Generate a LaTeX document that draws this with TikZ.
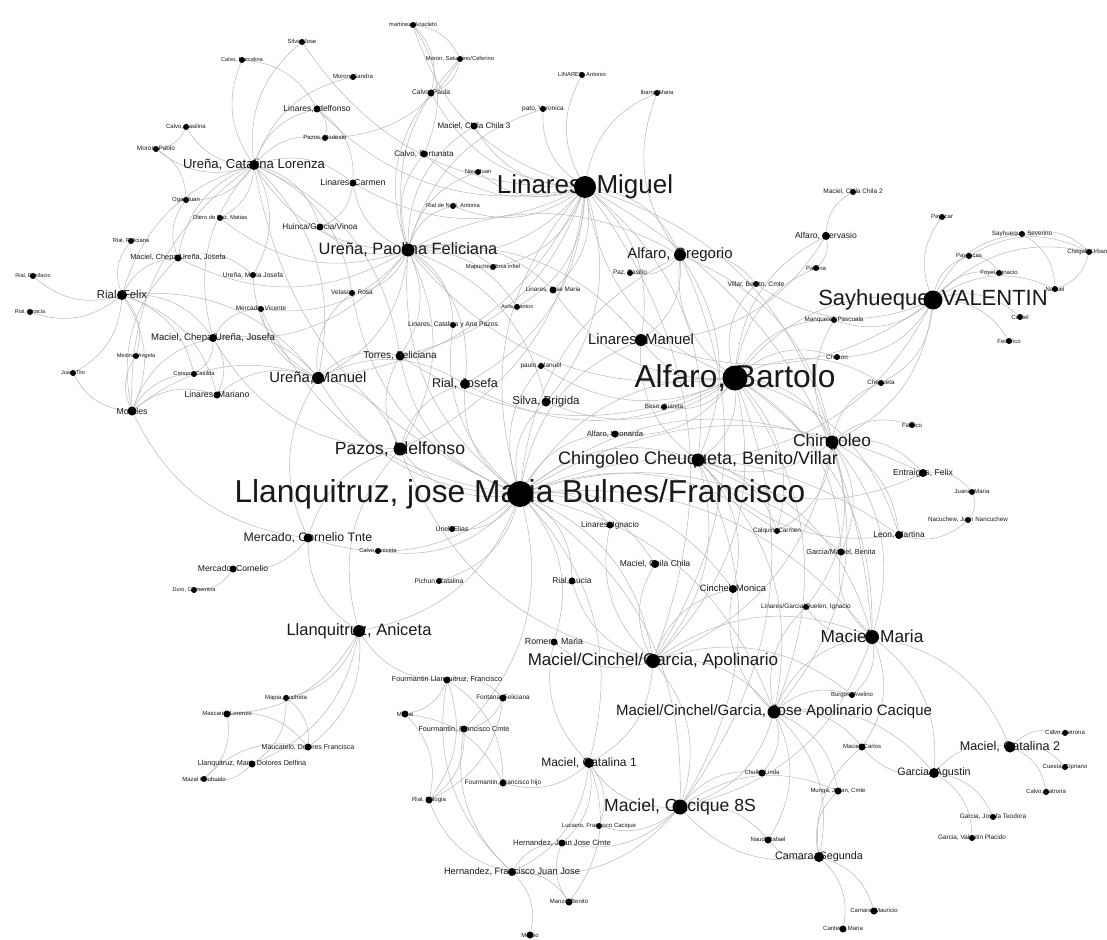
\documentclass[tikz,border=0pt]{standalone}
\usepackage{fontspec}
\setmainfont{Liberation Sans}
\usepackage{tikz}
\usetikzlibrary{positioning}

\pgfdeclarelayer{edges}
\pgfsetlayers{edges,main}

\tikzset{
  plbl/.style={inner sep=0pt, text=black!90},
  pdot/.style={circle, fill=black, inner sep=0pt},
  tie/.style={draw=gray!55, line width=0.5pt, bend left=28}
}

% one person: name, x, y, font size, dot size, label
\newcommand{\person}[6]{%
  \node[plbl, font=\fontsize{#4}{#4}\selectfont] (#1-t) at (#2,#3) {#6};
  \node[pdot, minimum size=#5pt] (#1) at (#2,#3) {};
}

\begin{document}
\begin{tikzpicture}[x=1pt, y=-1pt]
\useasboundingbox (0,0) rectangle (1107,939);

% hubs
\person{llanq}{520}{494}{31.7}{26}{Llanquitruz, jose Maria Bulnes/Francisco}
\person{alfbart}{735}{378}{31.7}{25}{Alfaro, Bartolo}
\person{linmig}{585}{187}{26}{22}{Linares, Miguel}
\person{sayh}{933}{300}{22}{19}{Sayhueque, VALENTIN}
\person{urpao}{408}{250}{16.4}{13}{Ureña, Paolina Feliciana}
\person{chche}{698}{460}{18}{13}{Chingoleo Cheuqueta, Benito/Villar}
\person{apol}{653}{661}{17}{14}{Maciel/Cinchel/Garcia, Apolinario}
\person{japol}{774}{712}{15}{13}{Maciel/Cinchel/Garcia, Jose Apolinario Cacique}
\person{cac8}{680}{807}{17.6}{15}{Maciel, Cacique 8S}
\person{pazos}{400}{449}{17.6}{13}{Pazos, Idelfonso}
\person{aniceta}{359}{631}{16.5}{12}{Llanquitruz, Aniceta}
\person{mmaria}{872}{637}{17.3}{14}{Maciel, Maria}
\person{chingo}{832}{442}{17.3}{13}{Chingoleo}
\person{alfgreg}{680}{255}{14.9}{12}{Alfaro, Gregorio}
\person{linman}{641}{340}{14.9}{12}{Linares, Manuel}
\person{urman}{318}{378}{14.8}{12}{Ureña, Manuel}
\person{urcat}{254}{165}{13.1}{10}{Ureña, Catalina Lorenza}
\person{rialjos}{465}{384}{12.6}{10}{Rial, Josefa}
\person{mcat1}{589}{763}{12}{10}{Maciel, Catalina 1}
\person{mcat2}{1010}{747}{12.6}{11}{Maciel, Catalina 2}
\person{mercT}{308}{538}{12.3}{9}{Mercado, Cornelio Tnte}
\person{rialfelix}{122}{295}{11.4}{10}{Rial, Felix}
\person{silva}{546}{402}{11.5}{9}{Silva, Brigida}
\person{garcag}{934}{773}{10.7}{10}{Garcia, Agustin}
\person{camara}{819}{857}{10.8}{10}{Camara, Segunda}
\person{torres}{400}{356}{10}{9}{Torres, Feliciana}
\person{chepa2}{213}{338}{9.6}{8}{Maciel, Chepa/Ureña, Josefa}

% middle sized
\person{linmar}{217}{395}{8.7}{7}{Linares, Mariano}
\person{morales}{132}{411}{8.7}{9}{Morales}
\person{mercC}{233}{569}{8.6}{7}{Mercado, Cornelio}
\person{linild}{317}{109}{8.5}{7}{Linares, Idelfonso}
\person{lincar}{353}{183}{8.8}{7}{Linares, Carmen}
\person{huinca}{320}{227}{8.2}{7}{Huinca/Garcia/Vinoa}
\person{fortun}{424}{154}{8}{7}{Calvo, Fortunata}
\person{chila3}{474}{126}{8}{7}{Maciel, Chila Chila 3}
\person{chepa1}{178}{258}{7.4}{7}{Maciel, Chepa/Ureña, Josefa}
\person{romero}{554}{642}{8.8}{7}{Romero, Maria}
\person{fourLl}{447}{680}{7.3}{7}{Fourmantin Llanquitruz, Francisco}
\person{hernFJ}{512}{872}{9.3}{8}{Hernandez, Francisco Juan Jose}
\person{hernJJ}{562}{843}{7.7}{7}{Hernandez, Juan Jose Cmte}
\person{cinmon}{733}{589}{9.3}{8}{Cinchel, Monica}
\person{chila}{655}{564}{8.5}{8}{Maciel, Chila Chila}
\person{linign}{610}{525}{8.2}{7}{Linares, Ignacio}
\person{riallu}{572}{581}{8.4}{7}{Rial, Lucia}
\person{entra}{923}{473}{8.7}{8}{Entraigas, Felix}
\person{leon}{899}{535}{8.4}{8}{Leon, Martina}
\person{alfgerv}{826}{236}{8.6}{8}{Alfaro, Gervasio}

% small
\person{silvaj}{302}{42}{5.9}{6}{Silva, Jose}
\person{calmar}{242}{60}{5.6}{6}{Calvo, Marcelina}
\person{morsan}{353}{77}{6}{6}{Moron, Sandra}
\person{pazmod}{325}{138}{6}{6}{Pazos, Modesto}
\person{calbas}{186}{127}{6}{6}{Calvo, Basilina}
\person{morpab}{156}{149}{6.4}{6}{Moron, Pablo}
\person{oga}{186}{200}{6}{6}{Oga, Juan}
\person{otero}{220}{218}{5.8}{6}{Otero de Paz, Matias}
\person{rialfel}{131}{241}{5.8}{6}{Rial, Feliciana}
\person{urmjos}{253}{275}{6.7}{6}{Ureña, Maria Josefa}
\person{rialbon}{33}{276}{5.5}{6}{Rial, Bonifacio}
\person{velasco}{352}{293}{6.5}{6}{Velasco, Rosa}
\person{mercvic}{261}{309}{6.5}{6}{Mercado, Vicente}
\person{rialign}{30}{312}{5.5}{6}{Rial, Ignacia}
\person{medina}{136}{356}{5.5}{6}{Medina, Angela}
\person{juanti}{73}{373}{5.5}{6}{Juan, Tito}
\person{crespo}{194}{374}{5.8}{6}{Crespo, Casilda}
\person{duro}{194}{590}{5.5}{6}{Duro, Clementina}
\person{calani}{378}{551}{5.8}{6}{Calvo, Aniceta}
\person{martinez}{413}{25}{5.8}{6}{martinez, Anacleto}
\person{morsat}{460}{59}{5.8}{6}{Moron, Saturnino/Ceferino}
\person{calpau}{431}{93}{6.7}{7}{Calvo, Paula}
\person{linant}{582}{75}{5.8}{6}{LINARES, Antonio}
\person{ibarra}{657}{93}{5.8}{6}{Ibarra, Maria}
\person{pato}{543}{109}{6.5}{6}{pato, Veronica}
\person{nau}{478}{172}{5.8}{6}{Nau, Juan}
\person{rialnel}{453}{206}{5.8}{6}{Rial de Nelli, Antonia}
\person{mapuche}{493}{267}{5.8}{6}{Mapuche, Rosa infiel}
\person{pazbas}{630}{273}{6.5}{6}{Paz, Basilio}
\person{linjm}{553}{290}{6.3}{7}{Linares, Jose Maria}
\person{avila}{517}{307}{5.5}{6}{Avila, Santos}
\person{villar}{756}{284}{6.7}{6}{Villar, Benito, Cmte}
\person{paulo}{541}{366}{6.5}{6}{paulo, Manuel}
\person{bosoj}{664}{407}{6.3}{6}{Boso, Juanita}
\person{alfleo}{615}{434}{7.6}{7}{Alfaro, Leonarda}
\person{lincat}{453}{325}{6.7}{6}{Linares, Catalina y Ana Pazos}
\person{uriel}{452}{529}{6.9}{6}{Uriel, Elias}
\person{pichun}{439}{581}{6.7}{6}{Pichun, Catalina}
\person{manq}{834}{320}{6.3}{6}{Manquelef, Pascuala}
\person{chacon}{837}{357}{6.3}{6}{Chacon}
\person{chequeta}{881}{383}{6.3}{6}{Chequeta}
\person{fabrico}{912}{425}{6}{6}{Fabrico}
\person{juanam}{972}{492}{6}{6}{Juana, Maria}
\person{nacu}{968}{520}{6.2}{6}{Nacuchew, Juan Nancuchew}
\person{calquin}{777}{531}{6.4}{6}{Calquin, Carmen}
\person{garben}{841}{552}{7.3}{7}{Garcia/Maciel, Benita}
\person{linq}{806}{607}{6.5}{6}{Linares/Garcia/Quelen, Ignacio}
\person{chila2}{853}{192}{6.5}{6}{Maciel, Chila Chila 2}
\person{paulina}{816}{268}{6}{6}{Paulina}
\person{payacar}{942}{217}{6}{6}{Payacar}
\person{saysev}{1022}{234}{6.3}{6}{Sayhueque, Severino}
\person{payll}{969}{256}{6}{6}{Payllacas}
\person{chegall}{1089}{252}{6}{6}{Chegall, Urbano}
\person{foyel}{999}{273}{6}{6}{Foyel, Ignacio}
\person{nahuel}{1055}{289}{6}{6}{Nahuel}
\person{catriel}{1020}{317}{6}{6}{Catriel}
\person{federico}{1009}{341}{6}{6}{Federico}
\person{mapia}{286}{698}{6}{6}{Mapia, Bucheta}
\person{mascarel}{227}{714}{6}{7}{Mascarel, Lorenzo}
\person{maucat}{308}{747}{7}{7}{Maucatelo, Dolores Francisca}
\person{llanmd}{252}{764}{7.2}{7}{Llanquitruz, Maria Dolores Delfina}
\person{mazal}{204}{779}{6}{6}{Mazal Chuhuelo}
\person{fontana}{503}{698}{6.5}{7}{Fontana, Feliciana}
\person{manai}{405}{714}{6}{7}{Mañai}
\person{fourFC}{464}{729}{7.2}{7}{Fourmantin, Francisco Cmte}
\person{fourFh}{503}{783}{6.5}{7}{Fourmantin, Francisco hijo}
\person{rialeul}{429}{800}{6}{7}{Rial, Eulogia}
\person{luciano}{599}{826}{6}{6}{Luciano, Francisco Cacique}
\person{manzo}{569}{902}{6}{7}{Manzo, Benito}
\person{melitio}{530}{935}{6}{7}{Melitio}
\person{burgos}{852}{695}{6}{6}{Burgos, Avelino}
\person{maccarl}{862}{747}{6}{7}{Maciel, Carlos}
\person{calpet}{1065}{733}{6}{6}{Calvo, Petrona}
\person{cuesta}{1065}{767}{6}{6}{Cuesta, Cipriano}
\person{calpat}{1046}{792}{6}{6}{Calvo, Patrona}
\person{chullu}{762}{773}{6}{7}{Chullu, Linda}
\person{munga}{838}{791}{6}{7}{Munga, Julian, Cmte}
\person{garjt}{993}{817}{6.4}{6}{Garcia, Josefa Teodora}
\person{garvp}{972}{838}{6.4}{6}{Garcia, Valentin Placido}
\person{naud}{768}{840}{6}{7}{Naud, Rafael}
\person{cammau}{874}{911}{6}{7}{Camara, Mauricio}
\person{cantero}{843}{929}{6}{7}{Cantero, Maria}

\begin{pgfonlayer}{edges}
\fill[white] (0,0) rectangle (1107,939);
\foreach \b in {urpao,pazos,urman,torres,rialjos,silva,chche,apol,japol,cac8,mmaria,chingo,linman,linign,uriel,pichun,riallu,chila,cinmon,romero,calani,alfleo,paulo,mcat1,lincat,aniceta,mercT,alfbart,linmig,alfgreg,fourFC,calquin,garben,leon,entra,urcat,velasco,mercvic}
  \draw[tie] (llanq) to (\b);
\foreach \b in {alfgreg,chche,chingo,linman,apol,japol,mmaria,bosoj,manq,chacon,chequeta,villar,silva,urpao,cac8,linmig,sayh,leon,alfgerv,paulina,rialjos,paulo,alfleo,garben,calquin,torres,linjm}
  \draw[tie] (alfbart) to (\b);
\foreach \b in {alfgreg,urpao,linman,chche,urman,rialjos,silva,pazos,torres,apol,chingo,martinez,fortun,pato,chila3,rialnel,linant,linild,lincar,silvaj,calpau,nau,ibarra,linjm,avila,mapuche,mmaria}
  \draw[tie] (linmig) to (\b);
\foreach \b in {urman,pazos,torres,rialjos,mapuche,linjm,avila,velasco,mercvic,chepa1,lincat,silva,linman,morsat,calpau,pato,chila3,fortun,nau,rialnel,lincar,huinca,urcat,otero,chepa2,alfgreg}
  \draw[tie] (urpao) to (\b);
\foreach \b in {payacar,saysev,payll,foyel,nahuel,chegall,catriel,federico,chingo,manq,chacon,chequeta,villar,linman,chche}
  \draw[tie] (sayh) to (\b);
\foreach \b in {pazbas,chche,linman,villar,ibarra,chingo,apol}
  \draw[tie] (alfgreg) to (\b);
\foreach \b in {fabrico,entra,leon,chche,garben,calquin,linq,mmaria,apol,japol,manq,chequeta}
  \draw[tie] (chingo) to (\b);
\foreach \b in {apol,japol,mmaria,cac8,linman,calquin,cinmon}
  \draw[tie] (chche) to (\b);
\foreach \b in {japol,cac8,mmaria,mcat1,cinmon,chila,romero,riallu,linign,burgos,pazos}
  \draw[tie] (apol) to (\b);
\foreach \b in {mmaria,cac8,burgos,maccarl,chullu,munga,naud,garcag,linq,cinmon,camara}
  \draw[tie] (japol) to (\b);
\foreach \b in {garben,linq,burgos,maccarl,garcag,mcat2,cac8}
  \draw[tie] (mmaria) to (\b);
\foreach \b in {mcat1,hernJJ,hernFJ,luciano,naud,chullu,munga}
  \draw[tie] (cac8) to (\b);
\foreach \b in {hernJJ,hernFJ,luciano,manzo,fourFh,romero}
  \draw[tie] (mcat1) to (\b);
\foreach \b in {rialeul,hernJJ,manzo,fourFC,melitio,fourLl}
  \draw[tie] (hernFJ) to (\b);
\foreach \b in {manai,fourFh,rialeul,aniceta,fontana}
  \draw[tie] (fourLl) to (\b);
\foreach \b in {mapia,mascarel,maucat,llanmd,mercT,pazos}
  \draw[tie] (aniceta) to (\b);
\foreach \b in {rialbon,rialign,chepa1,chepa2,morales,rialfel,urcat,medina,crespo,linmar,urman,juanti}
  \draw[tie] (rialfelix) to (\b);
\foreach \b in {chepa1,medina,crespo,linmar,juanti,urman,chepa2,urcat}
  \draw[tie] (morales) to (\b);
\foreach \b in {calbas,morpab,oga,otero,linild,huinca,lincar,pazmod,urman,silvaj,morsan,calmar,urmjos,velasco,torres}
  \draw[tie] (urcat) to (\b);
\foreach \b in {torres,velasco,mercvic,urmjos,pazos,rialjos}
  \draw[tie] (urman) to (\b);
\foreach \a/\b in {saysev/chegall,saysev/nahuel,chegall/nahuel,payll/chegall,payll/foyel,
  alfgerv/chila2,alfgerv/paulina,alfgerv/linman,
  entra/juanam,juanam/nacu,nacu/leon,entra/chche,leon/chche,
  garcag/maccarl,garcag/mcat2,garcag/garjt,garcag/garvp,
  mcat2/calpet,mcat2/cuesta,mcat2/calpat,
  camara/cammau,camara/cantero,camara/maccarl,camara/naud,camara/munga,camara/cac8,
  manzo/hernJJ,fontana/rialeul,fontana/fourFC,manai/fourFh,manai/rialeul,fourFC/rialeul,
  mapia/llanmd,mapia/maucat,mascarel/mazal,mazal/maucat,llanmd/mazal,mascarel/maucat,
  mercT/mercC,mercT/urman,mercT/morales,mercT/pazos,mercC/duro,
  chepa2/crespo,chepa2/linmar,chepa2/urman,chepa2/urcat,chepa2/mercvic,
  chepa1/urmjos,chepa1/urcat,chepa1/oga,linmar/urman,
  calbas/morpab,morpab/oga,calmar/linild,
  pazos/torres,pazos/rialjos,pazos/chepa2,
  martinez/calpau,martinez/fortun,martinez/morsat,morsat/calpau,morsat/pazmod,
  linild/pazmod,linild/lincar,lincar/huinca}
  \draw[tie] (\a) to (\b);
\end{pgfonlayer}
\end{tikzpicture}
\end{document}
